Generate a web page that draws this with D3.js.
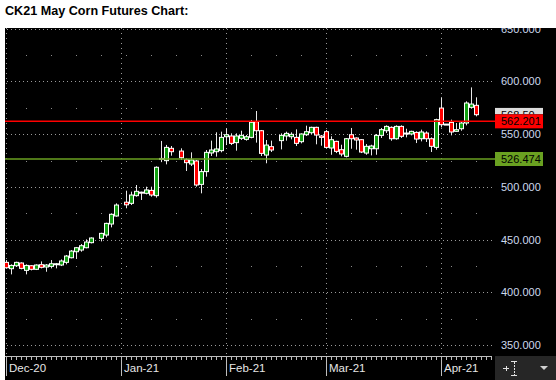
<!DOCTYPE html>
<html>
<head>
<meta charset="utf-8">
<script src="https://cdn.jsdelivr.net/npm/d3@7"></script>
<style>
  body { margin: 0; background: #fff; }
  svg { display: block; }
</style>
</head>
<body>
<svg id="chart" width="556" height="380"></svg>
<script>
// daily bars, CK21 (holidays simply missing -> gaps on the weekday axis)
const dates = [
  "2020-12-01","2020-12-02","2020-12-03","2020-12-04","2020-12-07","2020-12-08","2020-12-09","2020-12-10","2020-12-11",
  "2020-12-14","2020-12-15","2020-12-16","2020-12-17","2020-12-18","2020-12-21","2020-12-22","2020-12-23","2020-12-24",
  "2020-12-28","2020-12-29","2020-12-30","2020-12-31",
  "2021-01-04","2021-01-05","2021-01-06","2021-01-07","2021-01-08","2021-01-11","2021-01-12","2021-01-13","2021-01-14",
  "2021-01-15","2021-01-19","2021-01-20","2021-01-21","2021-01-22","2021-01-25","2021-01-26","2021-01-27","2021-01-28","2021-01-29",
  "2021-02-01","2021-02-02","2021-02-03","2021-02-04","2021-02-05","2021-02-08","2021-02-09","2021-02-10","2021-02-11","2021-02-12",
  "2021-02-16","2021-02-17","2021-02-18","2021-02-19","2021-02-22","2021-02-23","2021-02-24","2021-02-25","2021-02-26",
  "2021-03-01","2021-03-02","2021-03-03","2021-03-04","2021-03-05","2021-03-08","2021-03-09","2021-03-10","2021-03-11","2021-03-12",
  "2021-03-15","2021-03-16","2021-03-17","2021-03-18","2021-03-19","2021-03-22","2021-03-23","2021-03-24","2021-03-25","2021-03-26",
  "2021-03-29","2021-03-30","2021-03-31",
  "2021-04-01","2021-04-02","2021-04-05","2021-04-06","2021-04-07","2021-04-08","2021-04-09","2021-04-12"
];
const opens = [
  428.4,422.4,425.2,427.8,420.8,425.2,421.8,426.2,424.0,
  424.6,426.2,425.9,428.4,432.8,438.5,440.1,442.3,447.1,
  451.2,454.3,464.8,472.4,
  485.5,484.4,491.7,495.0,493.9,496.7,491.7,527.0,524.9,
  536.6,534.0,525.8,521.7,524.6,502.4,514.5,532.2,533.4,534.4,
  547.6,548.3,542.0,546.1,545.1,547.0,561.9,553.3,530.2,538.2,
  543.9,548.3,547.6,547.0,542.9,549.5,551.4,556.5,548.3,
  552.4,536.9,543.2,535.3,529.0,549.5,546.4,544.8,532.1,536.2,
  536.2,548.9,553.3,556.5,545.7,557.4,551.1,550.2,551.7,545.7,
  551.1,545.7,537.5,
  574.8,559.6,561.2,552.7,555.2,560.6,575.5,577.4
];
const highs = [
  430.6,426.5,429.0,428.4,426.5,425.8,426.5,429.3,426.8,
  430.6,427.8,431.2,435.4,440.1,443.0,445.8,450.2,452.1,
  456.5,466.0,474.9,484.4,
  496.4,495.5,501.8,495.5,500.2,500.2,519.5,543.6,539.8,
  538.8,536.6,527.1,532.8,525.5,517.0,535.0,543.9,551.8,552.4,
  555.6,550.8,550.8,553.3,549.2,563.5,572.0,554.0,544.5,543.9,
  550.8,552.4,551.8,554.6,550.8,558.1,557.1,557.1,549.2,
  554.0,548.0,543.8,540.0,546.4,555.9,547.0,545.4,540.7,540.0,
  550.2,555.9,558.4,557.4,558.4,558.4,555.2,553.3,552.7,554.3,
  552.7,547.0,564.7,
  585.0,559.6,563.8,560.6,562.2,581.2,594.4,585.0
];
const lows = [
  422.7,417.0,424.0,421.8,417.0,420.8,421.1,422.7,419.5,
  422.7,422.7,424.9,426.5,432.2,431.6,438.5,441.7,446.4,
  448.3,452.1,461.6,471.7,
  479.7,482.8,490.7,487.6,492.9,490.7,489.8,523.5,521.4,
  529.6,525.5,515.1,519.8,500.2,493.9,509.7,529.3,528.7,532.8,
  539.7,539.7,534.4,544.5,543.9,546.1,542.0,529.3,522.4,533.1,
  535.6,543.9,545.1,538.8,541.3,548.3,550.2,540.4,539.1,
  536.6,530.5,532.1,529.0,528.0,536.2,535.3,532.1,530.5,529.9,
  530.5,546.4,551.1,543.8,544.8,546.4,547.0,548.9,541.6,543.2,
  542.6,533.1,535.3,
  556.5,559.6,548.9,552.1,553.3,558.4,574.2,566.9
];
const closes = [
  423.3,425.5,428.4,422.7,425.5,421.8,425.9,423.7,425.9,
  427.1,427.1,429.7,434.4,439.1,442.3,444.2,447.7,451.5,
  455.9,465.4,474.0,482.8,
  483.0,492.3,495.8,494.6,497.1,492.3,518.6,526.6,537.5,
  533.4,527.7,523.0,525.5,501.8,514.5,532.8,535.0,536.0,547.0,
  549.5,541.3,548.3,548.9,547.6,561.3,553.3,531.8,539.7,535.0,
  548.9,550.8,549.9,541.3,550.2,552.4,556.5,549.2,547.0,
  537.5,544.8,533.7,531.2,545.7,545.7,544.5,533.1,538.5,538.8,
  548.9,554.3,557.4,545.7,557.4,548.0,551.1,552.7,545.4,552.1,
  545.7,538.5,563.8,
  559.0,559.6,552.1,554.3,560.6,579.6,578.6,568.5
];

const yTicks = [350, 400, 450, 500, 550, 600, 650];
const yMinor = [375, 425, 475, 525, 575, 625];
const monthStarts = ["2020-12-01", "2021-01-01", "2021-02-01", "2021-03-01", "2021-04-01"];
const redLevel = 562.201;
const greenLevel = 526.474;
const lastPrice = 568.50;

const parse = d3.timeParse("%Y-%m-%d");
const start = parse(dates[0]);
// weekday index from the first bar (weekends skipped, holidays keep their slot)
function wdIndex(d) {
  let n = 0;
  d3.timeDay.range(start, d).forEach(t => { const w = t.getDay(); if (w !== 0 && w !== 6) n++; });
  return n;
}

const bars = dates.map((d, i) => ({
  date: parse(d), i: wdIndex(parse(d)),
  o: opens[i], h: highs[i], l: lows[i], c: closes[i]
}));

const plotL = 5, plotR = 495, plotT = 28, plotB = 356;
const x = d3.scaleLinear().domain([-0.2, 97.8]).range([plotL, plotR]);
const y = d3.scaleLinear().domain([350, 650]).range([345, 28.8]);

const svg = d3.select("#chart");
const defs = svg.append("defs");
defs.append("clipPath").attr("id", "plotClip").append("rect")
  .attr("x", plotL).attr("y", plotT).attr("width", plotR - plotL).attr("height", plotB - plotT);
defs.append("clipPath").attr("id", "axisClip").append("rect")
  .attr("x", plotR).attr("y", plotT).attr("width", 556 - plotR).attr("height", plotB - plotT);
// last price tag is hidden under the red level tag, only its top shows
defs.append("clipPath").attr("id", "lastClip").append("rect")
  .attr("x", plotR).attr("y", y(lastPrice) - 7).attr("width", 60)
  .attr("height", Math.max(0, (y(redLevel) - 7) - (y(lastPrice) - 7)));

// title
svg.append("text")
  .attr("x", 5).attr("y", 15)
  .attr("font-family", "'Liberation Sans', Arial, sans-serif")
  .attr("font-weight", "bold").attr("font-size", 12.6)
  .attr("fill", "#000")
  .text("CK21 May Corn Futures Chart:");

// black chart panel
svg.append("rect").attr("x", plotL).attr("y", plotT).attr("width", 556 - plotL).attr("height", 380 - plotT).attr("fill", "#000");

const grid = svg.append("g").attr("clip-path", "url(#plotClip)");

// major horizontal dotted lines
grid.selectAll("line.hgrid").data(yTicks).join("line")
  .attr("class", "hgrid")
  .attr("x1", plotL + 2).attr("x2", plotR)
  .attr("y1", d => Math.round(y(d)) + 0.5).attr("y2", d => Math.round(y(d)) + 0.5)
  .attr("stroke", "#9a9a9a").attr("stroke-width", 1).attr("stroke-dasharray", "1 3");

// month vertical dotted lines
const monthIdx = monthStarts.map(m => wdIndex(parse(m)));
grid.selectAll("line.vgrid").data(monthIdx).join("line")
  .attr("class", "vgrid")
  .attr("x1", d => Math.round(x(d)) + 0.5).attr("x2", d => Math.round(x(d)) + 0.5)
  .attr("y1", plotT).attr("y2", plotB)
  .attr("stroke", "#9a9a9a").attr("stroke-width", 1).attr("stroke-dasharray", "1 4");

// weekly minor dots on the half levels
const mondays = d3.timeMonday.range(parse("2020-12-02"), parse("2021-04-30"))
  .map(wdIndex).filter(i => x(i) < plotR - 2 && !monthIdx.includes(i));
const minorPts = [];
yMinor.forEach(v => mondays.forEach(i => minorPts.push([i, v])));
grid.selectAll("rect.mdot").data(minorPts).join("rect")
  .attr("class", "mdot")
  .attr("x", d => Math.round(x(d[0]))).attr("y", d => Math.round(y(d[1])))
  .attr("width", 1).attr("height", 1).attr("fill", "#8a8a8a");

// candles
const cg = svg.append("g").attr("clip-path", "url(#plotClip)");
const candle = cg.selectAll("g.candle").data(bars).join("g").attr("class", "candle");
candle.append("line")
  .attr("x1", d => Math.round(x(d.i)) + 0.5).attr("x2", d => Math.round(x(d.i)) + 0.5)
  .attr("y1", d => y(d.h)).attr("y2", d => y(d.l))
  .attr("stroke", "#e8e8e8").attr("stroke-width", 1);
candle.append("rect")
  .attr("x", d => Math.round(x(d.i)) - 1.5)
  .attr("y", d => y(Math.max(d.o, d.c)))
  .attr("width", 4)
  .attr("height", d => Math.max(1, Math.abs(y(d.o) - y(d.c))))
  .attr("fill", d => d.c > d.o ? "#12a012" : (d.c < d.o ? "#ff0000" : "#ffffff"))
  .attr("stroke", "#ffffff").attr("stroke-width", 1);

// level lines
svg.append("line").attr("x1", plotL).attr("x2", plotR)
  .attr("y1", y(redLevel)).attr("y2", y(redLevel))
  .attr("stroke", "#ff0000").attr("stroke-width", 1.5);
svg.append("line").attr("x1", plotL).attr("x2", plotR)
  .attr("y1", y(greenLevel)).attr("y2", y(greenLevel))
  .attr("stroke", "#6aa121").attr("stroke-width", 1.3);

// right price axis
const labelFont = "'Liberation Sans', Arial, sans-serif";
const ax = svg.append("g").attr("clip-path", "url(#axisClip)");
ax.selectAll("text.ytick").data(yTicks).join("text")
  .attr("class", "ytick")
  .attr("x", 501).attr("y", d => y(d)).attr("dy", "0.36em")
  .attr("font-family", labelFont).attr("font-size", 11)
  .attr("fill", "#cdd9ee")
  .text(d => d3.format(".3f")(d));

function priceBox(v, bg, fg, txt, clip) {
  const g = svg.append("g");
  if (clip) g.attr("clip-path", clip);
  g.append("rect").attr("x", plotR).attr("y", y(v) - 7).attr("width", 48).attr("height", 14).attr("fill", bg);
  g.append("text").attr("x", 501).attr("y", y(v)).attr("dy", "0.36em")
    .attr("font-family", labelFont).attr("font-size", 11).attr("fill", fg).text(txt);
}
priceBox(lastPrice, "#dcdcdc", "#000", d3.format(".2f")(lastPrice), "url(#lastClip)");
priceBox(redLevel, "#ff0000", "#000", d3.format(".3f")(redLevel));
priceBox(greenLevel, "#6aa121", "#000", d3.format(".3f")(greenLevel));

// bottom time axis
const xa = svg.append("g");
const tickIdx = d3.range(0, 98);
xa.append("line").attr("x1", plotL).attr("x2", x(97))
  .attr("y1", plotB + 0.5).attr("y2", plotB + 0.5).attr("stroke", "#bdbdbd");
xa.selectAll("line.dtick").data(tickIdx).join("line")
  .attr("class", "dtick")
  .attr("x1", d => Math.round(x(d)) + 0.5).attr("x2", d => Math.round(x(d)) + 0.5)
  .attr("y1", plotB).attr("y2", d => monthIdx.includes(d) ? 376 : plotB + 4)
  .attr("stroke", "#bdbdbd");
xa.selectAll("text.mlabel").data(monthStarts).join("text")
  .attr("class", "mlabel")
  .attr("x", d => Math.round(x(wdIndex(parse(d)))) + 3).attr("y", 372)
  .attr("font-family", labelFont).attr("font-size", 11.5)
  .attr("fill", "#e6e6e6")
  .text(d => d3.timeFormat("%b-%y")(parse(d)));

// toolbar corner
svg.append("rect").attr("x", plotR).attr("y", plotB).attr("width", 556 - plotR).attr("height", 380 - plotB).attr("fill", "#262626");
const ic = svg.append("g").attr("stroke", "#e0e0e0").attr("stroke-width", 1).attr("fill", "none");
ic.append("line").attr("x1", 503).attr("x2", 509).attr("y1", 368.5).attr("y2", 368.5);
ic.append("line").attr("x1", 506.5).attr("x2", 506.5).attr("y1", 366).attr("y2", 371);
ic.append("line").attr("x1", 511).attr("x2", 517).attr("y1", 361.5).attr("y2", 361.5);
ic.append("line").attr("x1", 511).attr("x2", 517).attr("y1", 375.5).attr("y2", 375.5);
ic.append("line").attr("x1", 514.5).attr("x2", 514.5).attr("y1", 362).attr("y2", 375).attr("stroke-dasharray", "2 1");
svg.append("path").attr("d", "M540,366 L548,366 L544,370 Z").attr("fill", "#d0d0d0");
</script>
</body>
</html>
